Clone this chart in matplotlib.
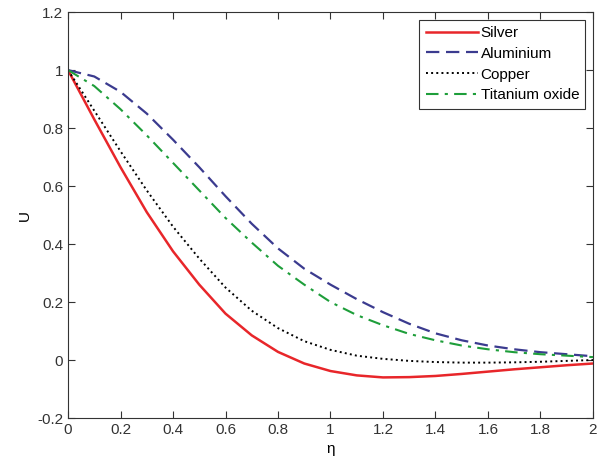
import matplotlib
matplotlib.use('Agg')
import matplotlib.pyplot as plt

eta = [0.0, 0.1, 0.2, 0.3, 0.4, 0.5, 0.6, 0.7, 0.8, 0.9, 1.0,
       1.1, 1.2, 1.3, 1.4, 1.5, 1.6, 1.7, 1.8, 1.9, 2.0]

silver = [1.0, 0.83, 0.665, 0.51, 0.375, 0.26, 0.16, 0.085, 0.028, -0.012, -0.038,
          -0.053, -0.06, -0.059, -0.055, -0.048, -0.04, -0.032, -0.025, -0.018, -0.012]
aluminium = [1.0, 0.978, 0.925, 0.85, 0.76, 0.665, 0.565, 0.47, 0.385, 0.315, 0.26,
             0.21, 0.165, 0.125, 0.092, 0.068, 0.05, 0.037, 0.027, 0.02, 0.013]
copper = [1.0, 0.86, 0.72, 0.585, 0.46, 0.35, 0.25, 0.17, 0.11, 0.065, 0.035,
          0.015, 0.004, -0.003, -0.007, -0.009, -0.009, -0.008, -0.006, -0.003, 0.0]
titanium = [1.0, 0.945, 0.865, 0.775, 0.68, 0.585, 0.49, 0.405, 0.325, 0.26, 0.2,
            0.155, 0.12, 0.09, 0.068, 0.05, 0.037, 0.027, 0.02, 0.015, 0.01]

plt.rcParams['font.family'] = ['Liberation Sans', 'DejaVu Sans']
plt.rcParams['font.size'] = 10

fig = plt.figure(figsize=(6.02, 4.66), dpi=100)
ax = fig.add_axes([0.113, 0.103, 0.872, 0.871])

ax.plot(eta, silver, '-', color='#e8262a', lw=1.8, label='Silver')
ax.plot(eta, aluminium, '--', color='#3b3b8f', lw=1.6, dashes=(6, 3), label='Aluminium')
ax.plot(eta, copper, ':', color='black', lw=1.4, label='Copper')
ax.plot(eta, titanium, '-.', color='#1e9e3a', lw=1.5, dashes=(6, 3, 1.5, 3), label='Titanium oxide')

ax.set_xlim(0, 2)
ax.set_ylim(-0.2, 1.2)
ax.set_xticks([0, 0.2, 0.4, 0.6, 0.8, 1, 1.2, 1.4, 1.6, 1.8, 2])
ax.set_xticklabels(['0', '0.2', '0.4', '0.6', '0.8', '1', '1.2', '1.4', '1.6', '1.8', '2'])
ax.set_yticks([-0.2, 0, 0.2, 0.4, 0.6, 0.8, 1, 1.2])
ax.set_yticklabels(['-0.2', '0', '0.2', '0.4', '0.6', '0.8', '1', '1.2'])
ax.tick_params(direction='in', top=True, right=True, length=5, labelsize=11, colors='#333333')
for s in ax.spines.values():
    s.set_color('#333333')
ax.set_xlabel('η', fontsize=11)
ax.set_ylabel('U', fontsize=11)

leg = ax.legend(loc='upper right', fontsize=11, fancybox=False, edgecolor='black',
                handlelength=3.4, handletextpad=0.2, borderaxespad=0.5, labelspacing=0.45)
leg.get_frame().set_linewidth(0.8)

fig.savefig('out.png', dpi=100)
